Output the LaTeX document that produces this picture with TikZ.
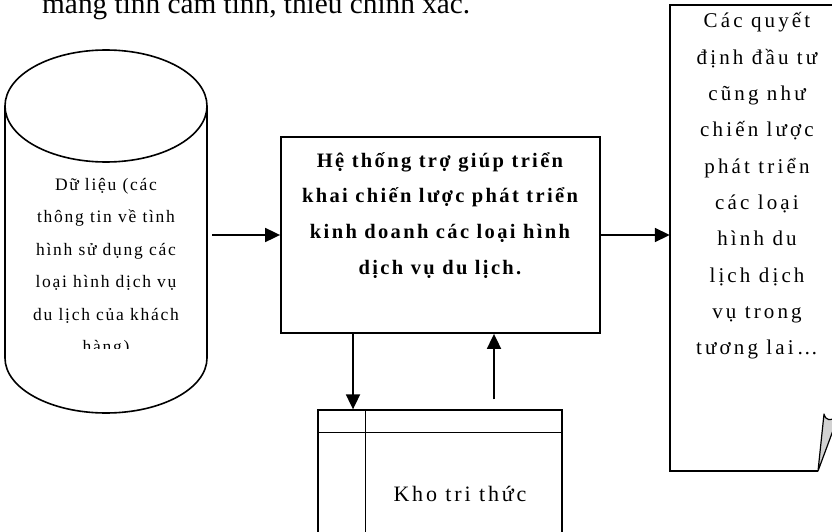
\documentclass[tikz,border=0pt]{standalone}
\usepackage{fontspec}
\setmainfont{Liberation Serif}
\usetikzlibrary{arrows.meta}

\tikzset{
  outline/.style={draw, line width=1.8pt},
  thinline/.style={draw, line width=1.3pt},
  conn/.style={line width=1.8pt, -{Triangle[length=15pt,width=14pt]}},
  cyltext/.style={anchor=base, inner sep=0pt,
    font=\fontsize{17.5}{20}\selectfont\addfontfeature{LetterSpace=10}},
  systext/.style={anchor=base, inner sep=0pt,
    font=\fontsize{20.5}{24}\selectfont\bfseries\addfontfeature{LetterSpace=11.5}},
  doctext/.style={anchor=base, inner sep=0pt,
    font=\fontsize{21}{25}\selectfont\addfontfeature{LetterSpace=15}},
  kbtextstyle/.style={anchor=base, inner sep=0pt,
    font=\fontsize{22}{26}\selectfont\addfontfeature{LetterSpace=13}},
}

\begin{document}
\begin{tikzpicture}[x=1pt, y=-1pt]
\useasboundingbox (0,0) rectangle (832,532);
\clip (0,0) rectangle (832,532);

% closing words of the paragraph above the figure
\node[anchor=base west, inner sep=0pt, font=\fontsize{29.3}{34}\selectfont]
  (note) at (42,14) {mang tính cảm tính, thiếu chính xác.};

% data store: cylinder
\node[minimum width=202pt, minimum height=363pt, inner sep=0pt] (data) at (106,231.5) {};
\draw[line width=1.6pt] (106,106) ellipse [x radius=101, y radius=56];
\draw[line width=1.6pt] (5,106) -- (5,358)
  arc[start angle=180, end angle=0, x radius=101, y radius=55] -- (207,106);
\begin{scope}
  \clip (0,0) rectangle (832,348);
  \foreach \t [count=\i] in {Dữ liệu (các, thông tin về tình, hình sử dụng các,
      loại hình dịch vụ, du lịch của khách, hàng)}
    \node[cyltext] (data-\i) at (106,{190+32.5*(\i-1)}) {\t};
\end{scope}

% decision support system
\node[outline, minimum width=319pt, minimum height=196pt, inner sep=0pt] (sys) at (440.5,235) {};
\foreach \t [count=\i] in {Hệ thống trợ giúp triển, khai chiến lược phát triển,
    kinh doanh các loại hình, dịch vụ du lịch.}
  \node[systext] (sys-\i) at (440,{167+35.7*(\i-1)}) {\t};

% output document with a curled corner
\node[minimum width=175pt, minimum height=466pt, inner sep=0pt] (doc) at (757.5,238) {};
\draw[line width=1.8pt] (845,5) -- (670,5) -- (670,471) -- (818,471);
\draw[line width=1.2pt, fill=gray!35, line join=round]
  (818,471) -- (824,414) .. controls (826,421) and (830,421) .. (838,417) -- cycle;
\foreach \t [count=\i] in {Các quyết, định đầu tư, cũng như, chiến lược, phát triển,
    các loại, hình du, lịch dịch, vụ trong, tương lai…}
  \node[doctext] (doc-\i) at (757,{28+36.3*(\i-1)}) {\t};

% knowledge base
\node[thinline, minimum width=244pt, minimum height=150pt, inner sep=0pt] (kb) at (440,485) {};
\draw[line width=1.3pt] ([yshift=-23pt]kb.north west) -- ([yshift=-23pt]kb.north east);
\draw[line width=1.3pt] ([xshift=48pt]kb.north west) -- ([xshift=48pt]kb.south west);
\node[kbtextstyle] (kb-text) at (460,501) {Kho tri thức};

% connectors
\draw[conn, shorten <=5pt] (data.east |- sys.west) -- (sys.west);
\draw[conn] (sys.east) -- (sys.east -| doc.west);
\draw[conn] ([xshift=-87.5pt]sys.south) -- ([xshift=-87.5pt]sys.south |- kb.north);
\draw[conn, shorten <=10pt] ([xshift=53.5pt]sys.south |- kb.north) -- ([xshift=53.5pt]sys.south);
\end{tikzpicture}
\end{document}
